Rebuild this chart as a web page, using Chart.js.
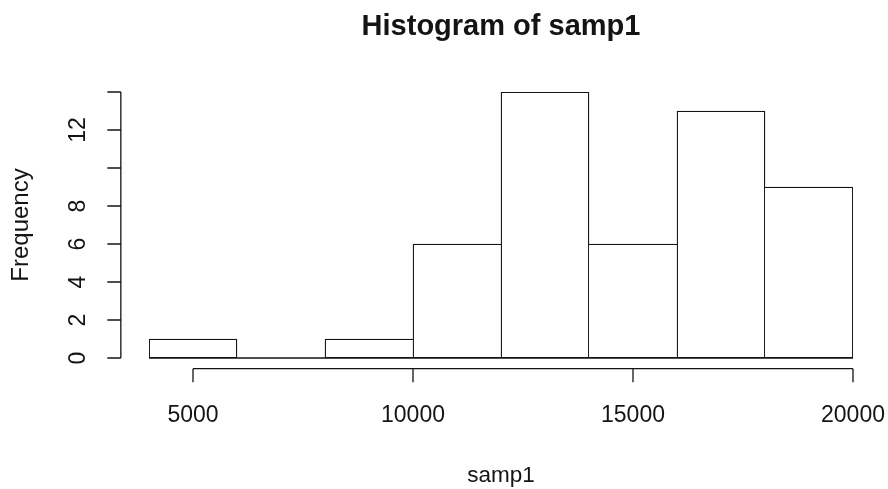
<!DOCTYPE html>
<html><head><meta charset="utf-8">
<script src="https://cdn.jsdelivr.net/npm/chart.js@4"></script>
<style>html,body{margin:0;padding:0;background:#fff}#wrap{width:888px;height:489px}</style>
</head><body><div id="wrap"><canvas id="c" width="888" height="489"></canvas></div>
<script>
// ---- data ----
const binStarts = [4000, 6000, 8000, 10000, 12000, 14000, 16000, 18000];
const binWidth = 2000;
const frequencies = [1, 0, 1, 6, 14, 6, 13, 9];
const xTickValues = [5000, 10000, 15000, 20000];
const xTickLabels = ['5000', '10000', '15000', '20000'];
const yTickValues = [0, 2, 4, 6, 8, 10, 12, 14];
const yTickLabels = ['0', '2', '4', '6', '8', '', '12', ''];
const chartTitle = 'Histogram of samp1';
const xTitle = 'samp1';
const yTitle = 'Frequency';

// ---- style ----
const INK = '#141414';
const FONT = "'Liberation Sans', Arial, sans-serif";
const LW = 1.3;
const TICK = 13.5;

const nBins = binStarts.length;
const points = binStarts.map((s, i) => ({ x: s + binWidth / 2, y: frequencies[i] }));

const rAxes = {
  id: 'rAxes',
  afterDatasetsDraw(chart) {
    const { ctx, scales: { x, y } } = chart;
    const xr = x.max - x.min, yr = y.max - y.min;
    const axX = x.getPixelForValue(x.min - 0.04 * xr);
    const axY = y.getPixelForValue(y.min - 0.04 * yr);
    ctx.save();
    ctx.strokeStyle = INK;
    ctx.lineWidth = LW;
    ctx.beginPath();
    // y axis
    ctx.moveTo(axX, y.getPixelForValue(yTickValues[0]));
    ctx.lineTo(axX, y.getPixelForValue(yTickValues[yTickValues.length - 1]));
    yTickValues.forEach(v => { const p = y.getPixelForValue(v); ctx.moveTo(axX, p); ctx.lineTo(axX - TICK, p); });
    // x axis
    ctx.moveTo(x.getPixelForValue(xTickValues[0]), axY);
    ctx.lineTo(x.getPixelForValue(xTickValues[xTickValues.length - 1]), axY);
    xTickValues.forEach(v => { const p = x.getPixelForValue(v); ctx.moveTo(p, axY); ctx.lineTo(p, axY + TICK); });
    // histogram baseline (covers zero-count bins)
    const b = y.getPixelForValue(0);
    ctx.moveTo(x.getPixelForValue(binStarts[0]), b);
    ctx.lineTo(x.getPixelForValue(binStarts[nBins - 1] + binWidth), b);
    ctx.stroke();
    ctx.restore();
  }
};

new Chart(document.getElementById('c'), {
  type: 'bar',
  data: {
    datasets: [{
      data: points,
      backgroundColor: '#ffffff',
      borderColor: INK,
      borderSkipped: false,
      borderWidth: (c) => {
        const i = c.dataIndex;
        const h = frequencies[i];
        const prev = i > 0 ? frequencies[i - 1] : -1;
        const next = i < nBins - 1 ? frequencies[i + 1] : -1;
        return { top: LW, bottom: LW, left: h >= prev ? LW : 0, right: h > next ? LW : 0 };
      },
      barPercentage: 1,
      categoryPercentage: 1
    }]
  },
  options: {
    responsive: false,
    animation: false,
    devicePixelRatio: 1,
    layout: { padding: { left: 0, right: 0, top: 0, bottom: 0 } },
    plugins: {
      legend: { display: false },
      tooltip: { enabled: false },
      title: {
        display: true,
        text: chartTitle,
        fullSize: false,
        color: INK,
        font: { family: FONT, size: 29, weight: 'bold' },
        padding: { top: 10, bottom: 47.2 }
      }
    },
    scales: {
      x: {
        type: 'linear',
        offset: false,
        min: binStarts[0],
        max: binStarts[nBins - 1] + binWidth,
        grid: { display: false, drawTicks: false },
        border: { display: false },
        afterBuildTicks: (s) => { s.ticks = xTickValues.map(v => ({ value: v })); },
        afterFit: (s) => { s.height = 131; s.paddingRight = 35; },
        ticks: {
          color: INK,
          font: { family: FONT, size: 23 },
          padding: 44,
          maxRotation: 0,
          autoSkip: false,
          callback: (v) => { const i = xTickValues.indexOf(v); return i >= 0 ? xTickLabels[i] : ''; }
        },
        title: {
          display: true, text: xTitle, color: INK,
          font: { family: FONT, size: 22.5 },
          padding: { top: 0, bottom: 0 }
        }
      },
      y: {
        min: yTickValues[0],
        max: yTickValues[yTickValues.length - 1],
        grid: { display: false, drawTicks: false },
        border: { display: false },
        afterBuildTicks: (s) => { s.ticks = yTickValues.map(v => ({ value: v })); },
        afterFit: (s) => { s.width = 149; },
        ticks: {
          color: INK,
          font: { family: FONT, size: 23 },
          minRotation: 90,
          maxRotation: 90,
          crossAlign: 'center',
          padding: 57.5,
          autoSkip: false,
          callback: (v) => { const i = yTickValues.indexOf(v); return i >= 0 ? yTickLabels[i] : ''; }
        },
        title: {
          display: true, text: yTitle, color: INK,
          font: { family: FONT, size: 24 },
          padding: { top: 7, bottom: 0 }
        }
      }
    }
  },
  plugins: [rAxes]
});
</script>
</body></html>
